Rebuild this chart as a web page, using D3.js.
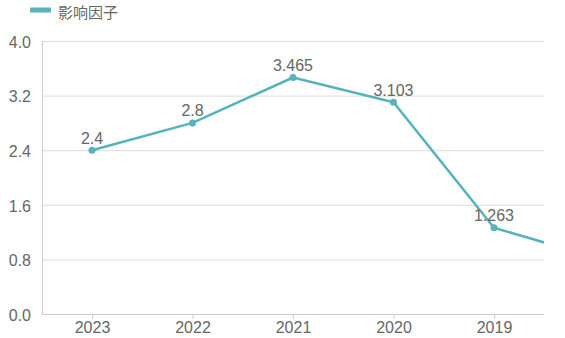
<!DOCTYPE html>
<html><head><meta charset="utf-8">
<script src="https://cdn.jsdelivr.net/npm/d3@7"></script>
<style>body{margin:0;background:#fff;}svg{display:block;font-family:"Liberation Sans",Arial,sans-serif;}</style>
</head><body><svg id="c" width="565" height="338"></svg>
<script>
const years = ["2023","2022","2021","2020","2019","2018"];
const values = [2.4, 2.8, 3.465, 3.103, 1.263, 0.835];
const yTicks = [0, 0.8, 1.6, 2.4, 3.2, 4.0];
const seriesName = "影响因子";

(function(){
const color = "#56b3bb";
const txt = "#666";
const svg = d3.select("#c");
const mLeft = 42, mRight = 544, mTop = 41, mBottom = 314;

const x = d3.scalePoint().domain(years).range([92, 92 + 5 * 100.5]);
const y = d3.scaleLinear().domain([0, 4]).range([mBottom, mTop]);
const visible = years.filter(d => x(d) <= mRight);

// grid
svg.append("g").selectAll("line").data(yTicks.filter(d => d > 0)).join("line")
  .attr("x1", mLeft).attr("x2", mRight)
  .attr("y1", d => y(d) + 0.5).attr("y2", d => y(d) + 0.5)
  .attr("stroke", "#dcdcdc").attr("stroke-width", 1);

// y labels
svg.append("g").selectAll("text").data(yTicks).join("text")
  .attr("x", 31).attr("y", d => y(d) + 1).attr("dy", "0.36em")
  .attr("text-anchor", "end").attr("fill", txt).attr("font-size", 16)
  .text(d => d.toFixed(1));

// axes lines
svg.append("line").attr("x1", mLeft + 0.5).attr("x2", mLeft + 0.5).attr("y1", mTop).attr("y2", mBottom)
  .attr("stroke", "#ccc");
svg.append("line").attr("x1", mLeft).attr("x2", mRight).attr("y1", mBottom + 0.5).attr("y2", mBottom + 0.5)
  .attr("stroke", "#ccc");

// x ticks and labels
const xg = svg.append("g").attr("transform", `translate(0,${mBottom})`)
  .call(d3.axisBottom(x).tickValues(visible).tickSize(5).tickSizeOuter(0).tickPadding(3));
xg.select(".domain").remove();
xg.selectAll(".tick line").attr("stroke", "#ccc");
xg.selectAll(".tick text").attr("fill", txt).attr("font-size", 16)
  .attr("font-family", '"Liberation Sans",Arial,sans-serif');

// clip
svg.append("defs").append("clipPath").attr("id", "clip")
  .append("rect").attr("x", mLeft).attr("y", 0).attr("width", mRight - mLeft).attr("height", mBottom + 5);

const pts = years.map((d, i) => ({k: d, v: values[i]}));
const g = svg.append("g").attr("clip-path", "url(#clip)");
g.append("path").datum(pts)
  .attr("d", d3.line().x(d => x(d.k)).y(d => y(d.v)))
  .attr("fill", "none").attr("stroke", color).attr("stroke-width", 2.5).attr("stroke-linejoin", "round");
g.selectAll("circle").data(pts).join("circle")
  .attr("cx", d => x(d.k)).attr("cy", d => y(d.v)).attr("r", 3.5).attr("fill", color);
svg.append("g").selectAll("text").data(pts.filter(p => x(p.k) <= mRight)).join("text")
  .attr("x", d => x(d.k)).attr("y", d => y(d.v) - 6.5)
  .attr("text-anchor", "middle").attr("fill", txt).attr("font-size", 16)
  .text(d => String(d.v));

// legend
svg.append("rect").attr("x", 30).attr("y", 7.5).attr("width", 21).attr("height", 5).attr("rx", 1).attr("fill", color);
svg.append("text").attr("x", 58).attr("y", 17.5)
  .attr("fill", txt).attr("font-size", 15)
  .attr("font-family", '"Noto Sans CJK SC",sans-serif').text(seriesName);
})();
</script></body></html>
